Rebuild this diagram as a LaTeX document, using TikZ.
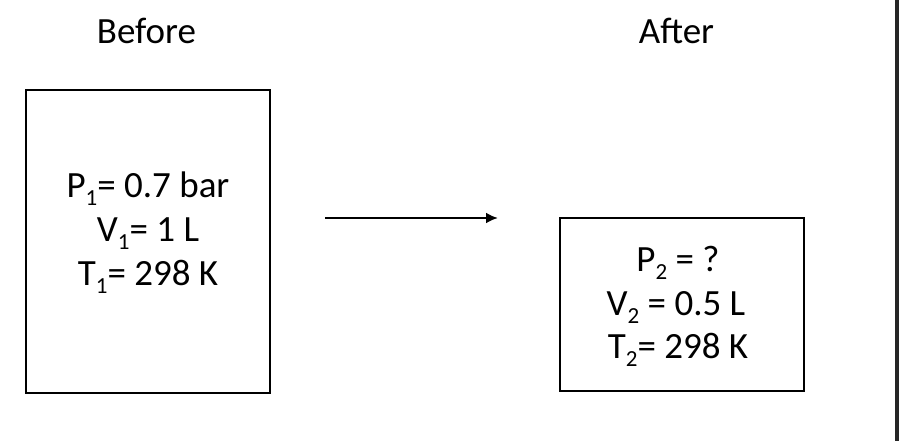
\documentclass[tikz,border=0pt]{standalone}
\usepackage{fontspec}
\setmainfont{Carlito}
\usetikzlibrary{arrows.meta}
\newcommand\sub[1]{\raisebox{-8pt}{\fontsize{23}{23}\selectfont #1}}
\tikzset{gbox/.style = {draw = black,
                        line width = 2.5pt,
                        inner sep = 0pt},
         gtxt/.style = {anchor = base,
                        inner sep = 0pt,
                        font = \fontsize{37}{44}\selectfont}}

\begin{document}
\begin{tikzpicture}[x=1pt,y=-1pt]
		\useasboundingbox (0,0) rectangle (899,441);
		\fill[black!85] (895,0) rectangle (899,441);
		% titles
		\node[gtxt] (before) at (146.5,44) {Before};
		\node[gtxt] (after) at (676.5,44) {After};
		% boxes
		\node[gbox, minimum width=244pt, minimum height=303pt] (b1) at (148,241.5) {};
		\node[gbox, minimum width=244pt, minimum height=173pt] (b2) at (682,304.5) {};
		% contents
		\node[gtxt] (p1) at (148,197) {P\sub{1}= 0.7 bar};
		\node[gtxt] (v1) at (148,241) {V\sub{1}= 1 L};
		\node[gtxt] (t1) at (148,285) {T\sub{1}= 298 K};
		\node[gtxt] (p2) at (678,271) {P\sub{2} = ?};
		\node[gtxt] (v2) at (676,315) {V\sub{2} = 0.5 L};
		\node[gtxt] (t2) at (678,358) {T\sub{2}= 298 K};
		% arrow
		\coordinate (a1) at (325,218);
		\coordinate (a2) at (498,218);
		\draw[line width=2.8pt, -{Latex[length=12pt,width=11pt]}] (a1) -- (a2);
	\end{tikzpicture}
\end{document}
